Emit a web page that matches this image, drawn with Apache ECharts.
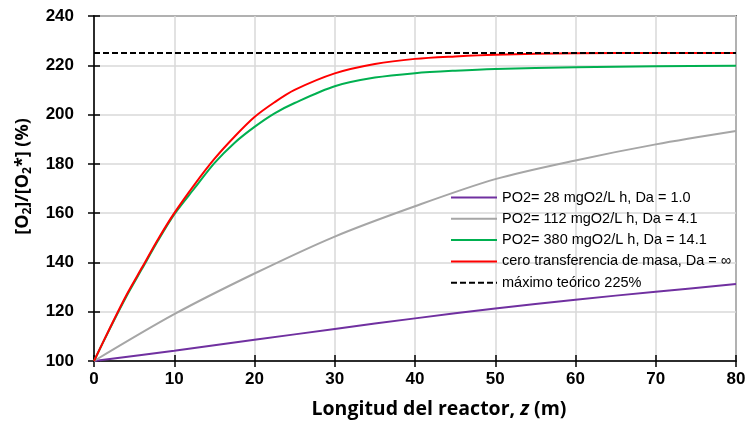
<!DOCTYPE html>
<html>
<head>
<meta charset="utf-8">
<script src="https://cdn.jsdelivr.net/npm/echarts@6/dist/echarts.min.js"></script>
<style>html,body{margin:0;padding:0;background:#fff;}#c{width:750px;height:426px;}</style>
</head>
<body>
<div id="c"></div>
<script>
// Data
const zFine = [0, 2, 4, 6, 8, 10, 12.5, 15, 17.5, 20, 22.5, 25, 30, 35, 40, 45, 50, 60, 70, 80];
const redVals = [100, 113.5, 126.5, 138, 149.5, 160, 171.5, 182, 191, 199, 205, 210, 216.7, 220.5, 222.6, 223.6, 224.3, 224.9, 225, 225];
const greenVals = [100, 113.3, 126, 137.5, 149, 159.5, 170, 180.3, 188.5, 195, 200.5, 204.7, 211.5, 215, 216.8, 217.8, 218.5, 219.2, 219.6, 219.8];
const zCoarse = [0, 10, 20, 30, 40, 50, 60, 70, 80];
const purpleVals = [100, 104.2, 108.6, 113.0, 117.3, 121.3, 124.9, 128.1, 131.2];
const grayVals = [100, 119, 135.5, 150.5, 162.8, 173.8, 181.4, 187.9, 193.3];
const zMax = [0, 80];
const maxVals = [225, 225];
const seriesNames = [
  'PO2= 28 mgO2/L h, Da = 1.0',
  'PO2= 112 mgO2/L h, Da = 4.1',
  'PO2= 380 mgO2/L h, Da = 14.1',
  'cero transferencia de masa, Da = \u221E',
  'máximo teórico 225%'
];
const xTicks = {min: 0, max: 80, interval: 10};
const yTicks = {min: 100, max: 240, interval: 20};

const zip = (xs, ys) => xs.map((x, i) => [x, ys[i]]);
const FONT = 'Liberation Sans';
const NFONT = 'Open Sans';

const chart = echarts.init(document.getElementById('c'), null, {renderer: 'canvas'});
const lineSeries = (name, xs, ys, color, extra) => Object.assign({
  name: name, type: 'line', data: zip(xs, ys), symbol: 'none', showSymbol: false,
  smooth: 0.3,
  lineStyle: {color: color, width: 2}, itemStyle: {color: color},
  xAxisIndex: 0, yAxisIndex: 0
}, extra || {});

chart.setOption({
  animation: false,
  backgroundColor: '#fff',
  grid: {left: 94, right: 14, top: 16, bottom: 65, show: true, borderColor: '#000', borderWidth: 1.5, backgroundColor: 'transparent'},
  legend: {
    orient: 'vertical', left: 446, top: 188, padding: [2, 4, 2, 4],
    itemWidth: 46, itemHeight: 14, itemGap: 6.3,
    itemStyle: {opacity: 0},
    textStyle: {fontFamily: FONT, fontSize: 14.5, color: '#000', lineHeight: 14},
    data: seriesNames
  },
  xAxis: [{
    type: 'value', min: xTicks.min, max: xTicks.max, interval: xTicks.interval,
    name: 'Longitud del reactor, {i|z} (m)', nameLocation: 'middle', nameGap: 38,
    nameTextStyle: {fontFamily: NFONT, fontSize: 19.5, fontWeight: 'bold', color: '#000', padding: [0, 0, 0, 48],
      rich: {i: {fontFamily: NFONT, fontSize: 19.5, fontStyle: 'italic', color: '#000'}}},
    axisLine: {show: true, onZero: false, lineStyle: {color: '#000', width: 1.5}},
    axisTick: {show: true, inside: false, length: 6, lineStyle: {color: '#000', width: 1.5}},
    axisLabel: {margin: 10, fontFamily: FONT, fontSize: 17, fontWeight: 'bold', color: '#000'},
    splitLine: {show: true, lineStyle: {color: '#d9d9d9', width: 1.5}}
  }, {
    type: 'value', position: 'bottom', min: xTicks.min, max: xTicks.max, interval: xTicks.interval,
    axisLine: {show: false}, axisLabel: {show: false}, splitLine: {show: false},
    axisTick: {show: true, inside: true, length: 6, lineStyle: {color: '#000', width: 1.5}}
  }],
  yAxis: [{
    type: 'value', min: yTicks.min, max: yTicks.max, interval: yTicks.interval,
    name: '[O{s|2}]/[O{s|2}*] (%)', nameLocation: 'middle', nameGap: 60, nameRotate: 90,
    nameTextStyle: {fontFamily: NFONT, fontSize: 18, fontWeight: 'bold', color: '#000', lineHeight: 22, padding: [0, 0, 0, 24],
      rich: {s: {fontFamily: NFONT, fontSize: 12, fontWeight: 'bold', color: '#000', verticalAlign: 'bottom', lineHeight: 12, padding: [7, 0, 0, 0]}}},
    axisLine: {show: true, onZero: false, lineStyle: {color: '#000', width: 1.5}},
    axisTick: {show: true, inside: false, length: 6, lineStyle: {color: '#000', width: 1.5}},
    axisLabel: {margin: 20, fontFamily: FONT, fontSize: 17, fontWeight: 'bold', color: '#000'},
    splitLine: {show: true, lineStyle: {color: '#d9d9d9', width: 1.5}}
  }, {
    type: 'value', position: 'left', min: yTicks.min, max: yTicks.max, interval: yTicks.interval,
    axisLine: {show: false}, axisLabel: {show: false}, splitLine: {show: false},
    axisTick: {show: true, inside: true, length: 6, lineStyle: {color: '#000', width: 1.5}}
  }],
  series: [
    lineSeries(seriesNames[0], zCoarse, purpleVals, '#7030A0'),
    lineSeries(seriesNames[1], zCoarse, grayVals, '#A6A6A6'),
    lineSeries(seriesNames[2], zFine, greenVals, '#00B050'),
    lineSeries(seriesNames[3], zFine, redVals, '#FF0000'),
    lineSeries(seriesNames[4], zMax, maxVals, '#000000', {smooth: false, lineStyle: {color: '#000', width: 2, type: [6, 3]}})
  ]
});
</script>
</body>
</html>
